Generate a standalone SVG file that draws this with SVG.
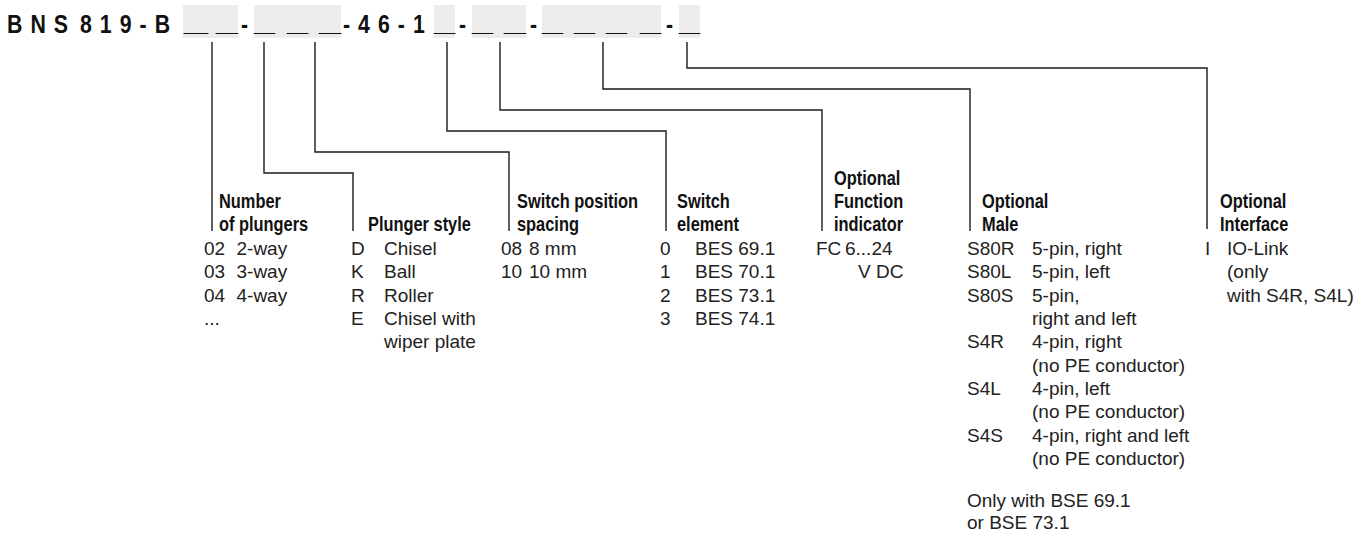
<svg xmlns="http://www.w3.org/2000/svg" width="1371" height="533" viewBox="0 0 1371 533">
<style>
.t{font-family:"Liberation Sans","Arial",sans-serif;font-weight:bold;font-size:26px;fill:#111;letter-spacing:9.75px}
.u{font-family:"Liberation Sans","Arial",sans-serif;font-weight:bold;font-size:26px;fill:#111}
.box{fill:#ececec}
.h{font-family:"Liberation Sans","Arial",sans-serif;font-weight:bold;font-size:20px;fill:#111}
.d{font-family:"Liberation Sans","Arial",sans-serif;font-size:19px;fill:#222}
.c{fill:none;stroke:#1a1a1a;stroke-width:1.4}
</style>
<g id="code">
<rect class="box" x="183" y="5" width="55" height="33"/>
<rect class="box" x="254" y="5" width="87" height="33"/>
<rect class="box" x="434" y="5" width="21" height="33"/>
<rect class="box" x="472" y="5" width="54" height="33"/>
<rect class="box" x="542" y="5" width="119" height="33"/>
<rect class="box" x="679" y="5" width="21" height="33"/>
<text class="t" transform="matrix(0.82,0,0,1,7,33)">BNS</text>
<text class="t" transform="matrix(0.82,0,0,1,80,33)">819-B</text>
<text class="t" transform="matrix(0.82,0,0,1,241,33)">-</text>
<text class="t" transform="matrix(0.82,0,0,1,343,33)">-46-1</text>
<text class="t" transform="matrix(0.82,0,0,1,459,33)">-</text>
<text class="t" transform="matrix(0.82,0,0,1,530,33)">-</text>
<text class="t" transform="matrix(0.82,0,0,1,666,33)">-</text>
<text class="u" x="184" y="31" textLength="24" lengthAdjust="spacingAndGlyphs">_</text>
<text class="u" x="216" y="31" textLength="22" lengthAdjust="spacingAndGlyphs">_</text>
<text class="u" x="254" y="31" textLength="21" lengthAdjust="spacingAndGlyphs">_</text>
<text class="u" x="287" y="31" textLength="21" lengthAdjust="spacingAndGlyphs">_</text>
<text class="u" x="319" y="31" textLength="22" lengthAdjust="spacingAndGlyphs">_</text>
<text class="u" x="434" y="31" textLength="21" lengthAdjust="spacingAndGlyphs">_</text>
<text class="u" x="472" y="31" textLength="21" lengthAdjust="spacingAndGlyphs">_</text>
<text class="u" x="504" y="31" textLength="22" lengthAdjust="spacingAndGlyphs">_</text>
<text class="u" x="542" y="31" textLength="21" lengthAdjust="spacingAndGlyphs">_</text>
<text class="u" x="574" y="31" textLength="21" lengthAdjust="spacingAndGlyphs">_</text>
<text class="u" x="606" y="31" textLength="21" lengthAdjust="spacingAndGlyphs">_</text>
<text class="u" x="640" y="31" textLength="21" lengthAdjust="spacingAndGlyphs">_</text>
<text class="u" x="679" y="31" textLength="21" lengthAdjust="spacingAndGlyphs">_</text>
</g>
<g id="connectors">
<path class="c" d="M212,42V231"/>
<path class="c" d="M264,42V173H353V231"/>
<path class="c" d="M315,42V152H509V231"/>
<path class="c" d="M447,42V131H666V231"/>
<path class="c" d="M500,42V110H822V231"/>
<path class="c" d="M603,42V89H970V231"/>
<path class="c" d="M687,42V68H1207V229"/>
</g>
<g id="plungers">
<text class="h" transform="matrix(0.82,0,0,1,219,208)">Number</text>
<text class="h" transform="matrix(0.82,0,0,1,219,231)">of plungers</text>
<text class="d" x="204" y="255">02</text><text class="d" x="236.5" y="255">2-way</text>
<text class="d" x="204" y="278.3">03</text><text class="d" x="236.5" y="278.3">3-way</text>
<text class="d" x="204" y="301.7">04</text><text class="d" x="236.5" y="301.7">4-way</text>
<text class="d" x="204" y="325">...</text>
</g>
<g id="plunger-style">
<text class="h" transform="matrix(0.82,0,0,1,368,231)">Plunger style</text>
<text class="d" x="351" y="255">D</text><text class="d" x="384" y="255">Chisel</text>
<text class="d" x="351" y="278.3">K</text><text class="d" x="384" y="278.3">Ball</text>
<text class="d" x="351" y="301.7">R</text><text class="d" x="384" y="301.7">Roller</text>
<text class="d" x="351" y="325">E</text><text class="d" x="384" y="325">Chisel with</text>
<text class="d" x="384" y="348.3">wiper plate</text>
</g>
<g id="spacing">
<text class="h" transform="matrix(0.82,0,0,1,517,208)">Switch position</text>
<text class="h" transform="matrix(0.82,0,0,1,517,231)">spacing</text>
<text class="d" x="501" y="255">08</text><text class="d" x="529" y="255">8 mm</text>
<text class="d" x="501" y="278.3">10</text><text class="d" x="529" y="278.3">10 mm</text>
</g>
<g id="switch-element">
<text class="h" transform="matrix(0.82,0,0,1,677,208)">Switch</text>
<text class="h" transform="matrix(0.82,0,0,1,677,231)">element</text>
<text class="d" x="660" y="255">0</text><text class="d" x="695" y="255">BES 69.1</text>
<text class="d" x="660" y="278.3">1</text><text class="d" x="695" y="278.3">BES 70.1</text>
<text class="d" x="660" y="301.7">2</text><text class="d" x="695" y="301.7">BES 73.1</text>
<text class="d" x="660" y="325">3</text><text class="d" x="695" y="325">BES 74.1</text>
</g>
<g id="function-indicator">
<text class="h" transform="matrix(0.82,0,0,1,834,185)">Optional</text>
<text class="h" transform="matrix(0.82,0,0,1,834,208)">Function</text>
<text class="h" transform="matrix(0.82,0,0,1,834,231)">indicator</text>
<text class="d" x="816" y="255">FC</text><text class="d" x="845" y="255">6...24</text>
<text class="d" x="858" y="278.3">V DC</text>
</g>
<g id="male">
<text class="h" transform="matrix(0.82,0,0,1,982,208)">Optional</text>
<text class="h" transform="matrix(0.82,0,0,1,982,231)">Male</text>
<text class="d" x="967" y="255">S80R</text><text class="d" x="1032" y="255">5-pin, right</text>
<text class="d" x="967" y="278.3">S80L</text><text class="d" x="1032" y="278.3">5-pin, left</text>
<text class="d" x="967" y="301.7">S80S</text><text class="d" x="1032" y="301.7">5-pin,</text>
<text class="d" x="1032" y="325">right and left</text>
<text class="d" x="967" y="348.3">S4R</text><text class="d" x="1032" y="348.3">4-pin, right</text>
<text class="d" x="1032" y="371.7">(no PE conductor)</text>
<text class="d" x="967" y="395">S4L</text><text class="d" x="1032" y="395">4-pin, left</text>
<text class="d" x="1032" y="418.3">(no PE conductor)</text>
<text class="d" x="967" y="441.7">S4S</text><text class="d" x="1032" y="441.7">4-pin, right and left</text>
<text class="d" x="1032" y="465">(no PE conductor)</text>
<text class="d" x="967" y="507">Only with BSE 69.1</text>
<text class="d" x="967" y="529">or BSE 73.1</text>
</g>
<g id="interface">
<text class="h" transform="matrix(0.82,0,0,1,1220,208)">Optional</text>
<text class="h" transform="matrix(0.82,0,0,1,1220,231)">Interface</text>
<text class="d" x="1205" y="255">I</text><text class="d" x="1227" y="255">IO-Link</text>
<text class="d" x="1227" y="278.3">(only</text>
<text class="d" x="1227" y="301.7">with S4R, S4L)</text>
</g>
</svg>
